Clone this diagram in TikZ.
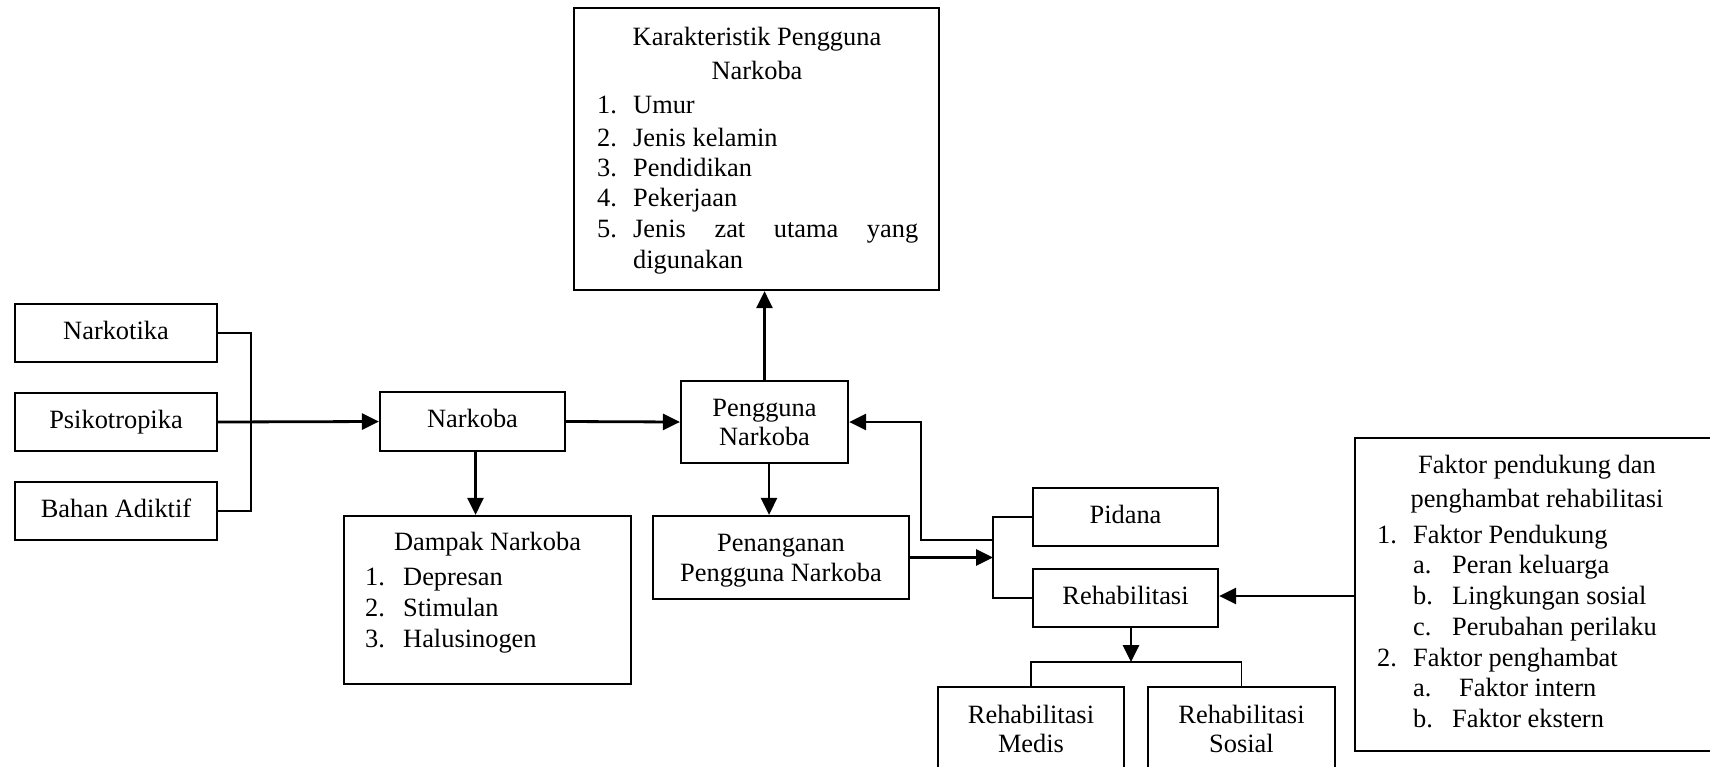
\documentclass[tikz,border=0pt]{standalone}
\usepackage{fontspec}
\setmainfont{Liberation Serif}
\usetikzlibrary{arrows.meta}
\newcommand\myfs{\fontsize{26.4}{30}\selectfont}
\begin{document}
\begin{tikzpicture}[x=1pt,y=-1pt,
  box/.style={draw, line width=2.2pt, inner sep=0pt},
  sbox/.style={box, text height=18pt, text depth=6pt, font=\myfs},
  txt/.style={inner sep=0pt, anchor=base, font=\myfs},
  ltxt/.style={inner sep=0pt, anchor=base west, font=\myfs},
  arr/.style={line width=2.8pt, -{Triangle[length=17pt,width=16pt]}},
  ln/.style={line width=1.6pt}]
\useasboundingbox (0,0) rectangle (1710,766);
\clip (0,0) rectangle (1710,766);

% left column
\node[sbox, minimum width=202pt, minimum height=58pt] (narkotika) at (116,333) {Narkotika};
\node[sbox, minimum width=202pt, minimum height=58pt] (psiko) at (116,422) {Psikotropika};
\node[sbox, minimum width=202pt, minimum height=58pt] (bahan) at (116,511) {Bahan Adiktif};

% Narkoba
\node[sbox, minimum width=185pt, minimum height=59pt] (narkoba) at (472.5,421.5) {Narkoba};

% Dampak
\node[box, minimum width=287pt, minimum height=168pt] (dampak) at (487.5,600) {};
\node[txt] (dampakT) at (487.5,550) {Dampak Narkoba};
\node[ltxt] (dampak1) at (365,585) {\makebox[38pt][l]{1.}Depresan};
\node[ltxt] (dampak2) at (365,616) {\makebox[38pt][l]{2.}Stimulan};
\node[ltxt] (dampak3) at (365,647) {\makebox[38pt][l]{3.}Halusinogen};

% Karakteristik
\node[box, minimum width=365pt, minimum height=282pt] (karak) at (756.5,149) {};
\node[txt] (karakT1) at (757,45) {Karakteristik Pengguna};
\node[txt] (karakT2) at (757,79) {Narkoba};
\node[ltxt] (karak1) at (597,113) {\makebox[36pt][l]{1.}Umur};
\node[ltxt] (karak2) at (597,146) {\makebox[36pt][l]{2.}Jenis kelamin};
\node[ltxt] (karak3) at (597,176) {\makebox[36pt][l]{3.}Pendidikan};
\node[ltxt] (karak4) at (597,206) {\makebox[36pt][l]{4.}Pekerjaan};
\node[ltxt] (karak5) at (597,237) {\makebox[36pt][l]{5.}\makebox[285pt][l]{Jenis\hfill zat\hfill utama\hfill yang}};
\node[ltxt] (karak6) at (633,268) {digunakan};

% Pengguna
\node[box, minimum width=167pt, minimum height=82pt] (pengguna) at (764.5,422) {};
\node[txt] (penggunaT1) at (764.5,416) {Pengguna};
\node[txt] (penggunaT2) at (764.5,445) {Narkoba};

% Penanganan
\node[box, minimum width=256pt, minimum height=83pt] (penanganan) at (781,557.5) {};
\node[txt] (penangananT1) at (781,551) {Penanganan};
\node[txt] (penangananT2) at (781,581) {Pengguna Narkoba};

% Pidana / Rehabilitasi
\node[sbox, minimum width=185pt, minimum height=58pt] (pidana) at (1125.5,517) {Pidana};
\node[sbox, minimum width=185pt, minimum height=58pt] (rehab) at (1125.5,598) {Rehabilitasi};

% Medis / Sosial
\node[box, minimum width=186pt, minimum height=110pt] (medis) at (1031,742) {};
\node[txt] (medisT1) at (1031,723) {Rehabilitasi};
\node[txt] (medisT2) at (1031,752) {Medis};
\node[box, minimum width=187pt, minimum height=110pt] (sosial) at (1241.5,742) {};
\node[txt] (sosialT1) at (1241.5,723) {Rehabilitasi};
\node[txt] (sosialT2) at (1241.5,752) {Sosial};

% Faktor
\node[box, minimum width=364pt, minimum height=313pt] (faktor) at (1537,594.5) {};
\node[txt] (faktorT1) at (1537,473) {Faktor pendukung dan};
\node[txt] (faktorT2) at (1537,507) {penghambat rehabilitasi};
\node[ltxt] (faktor1) at (1377,543) {\makebox[36pt][l]{1.}Faktor Pendukung};
\node[ltxt] (faktor1a) at (1413,573) {\makebox[39pt][l]{a.}Peran keluarga};
\node[ltxt] (faktor1b) at (1413,604) {\makebox[39pt][l]{b.}Lingkungan sosial};
\node[ltxt] (faktor1c) at (1413,635) {\makebox[39pt][l]{c.}Perubahan perilaku};
\node[ltxt] (faktor2) at (1377,666) {\makebox[36pt][l]{2.}Faktor penghambat};
\node[ltxt] (faktor2a) at (1413,696) {\makebox[46pt][l]{a.}Faktor intern};
\node[ltxt] (faktor2b) at (1413,727) {\makebox[39pt][l]{b.}Faktor ekstern};

% connectors
\coordinate (jleft) at (251,422);
\draw[ln] (narkotika.east) -| (jleft) |- (bahan.east);
\draw[arr] (psiko.east) -- (narkoba.west);
\draw[arr] (narkoba.east) -- (pengguna.west);
\draw[arr] ([xshift=3pt]narkoba.south) -- ([xshift=3pt]narkoba.south |- dampak.north);
\draw[arr] (pengguna.north) -- (pengguna.north |- karak.south);
\draw[arr] ([xshift=4.5pt]pengguna.south) -- ([xshift=4.5pt]pengguna.south |- penanganan.north);

\coordinate (jmid) at (993,558);
\draw[arr] (penanganan.east) -- (penanganan.east -| jmid);
\draw[ln] (pidana.west) -| (jmid) |- (rehab.west);
\coordinate (fbStart) at (993,540);
\coordinate (fbCorner) at (921,540);
\draw[arr] (fbStart) -- (fbCorner) |- (pengguna.east);

\draw[arr] (faktor.west |- 0,596) -- (rehab.east |- 0,596);

\coordinate (jbot) at (1131,662);
\draw[arr] (rehab.south -| jbot) -- (jbot);
\draw[ln] (medis.north) |- (jbot) -| (sosial.north);
\end{tikzpicture}
\end{document}
